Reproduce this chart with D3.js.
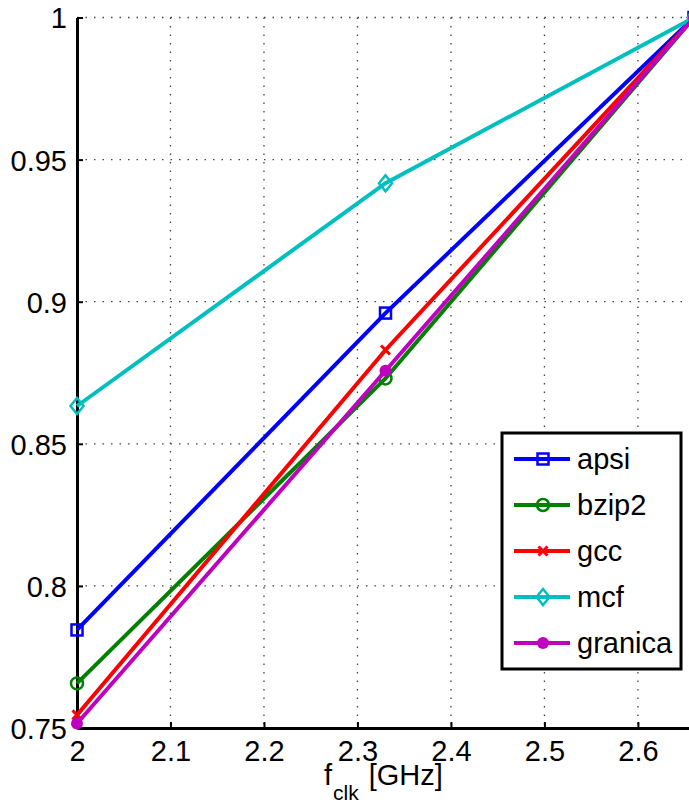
<!DOCTYPE html>
<html>
<head>
<meta charset="utf-8">
<script src="https://cdn.jsdelivr.net/npm/d3@7"></script>
<style>
  body { margin: 0; background: #fff; }
  svg { display: block; font-family: "Liberation Sans", Arial, sans-serif; }
</style>
</head>
<body>
<div id="chart"></div>
<script>
// clock frequencies (GHz)
const freqs = [2.0, 2.33, 2.66]
const seriesNames = ['apsi', 'bzip2', 'gcc', 'mcf', 'granica']
const apsi = [0.7845, 0.896, 1.0]
const bzip2 = [0.7657, 0.873, 1.0]
const gcc = [0.7546, 0.883, 1.0]
const mcf = [0.8633, 0.9417, 1.0]
const granica = [0.7516, 0.8757, 1.0]
const xTicks = [2, 2.1, 2.2, 2.3, 2.4, 2.5, 2.6]
const yTicks = [0.75, 0.8, 0.85, 0.9, 0.95, 1]

const colors = ['#0000ff', '#008000', '#ff0000', '#00bfbf', '#bf00bf']
const symbols = ['square', 'circle', 'cross', 'diamond', 'dot']
const values = [apsi, bzip2, gcc, mcf, granica]

const width = 689, height = 803
const m = { left: 77, top: 17.5, plotRight: 694, bottom: 728 }

const svg = d3.select("#chart").append("svg")
  .attr("width", width)
  .attr("height", height)

const x = d3.scaleLinear().domain([2, 2.66]).range([m.left, m.plotRight])
const y = d3.scaleLinear().domain([0.75, 1]).range([m.bottom, m.top])

// grid (dotted)
const grid = svg.append("g")
grid.selectAll("line.gx")
  .data(xTicks.slice(1))
  .enter().append("line")
    .attr("x1", d => x(d)).attr("x2", d => x(d))
    .attr("y1", m.top).attr("y2", m.bottom)
    .attr("stroke", "#444").attr("stroke-width", 1.3)
    .attr("stroke-dasharray", "1.5,7")
grid.selectAll("line.gy")
  .data(yTicks.slice(1))
  .enter().append("line")
    .attr("x1", m.left).attr("x2", width)
    .attr("y1", d => y(d)).attr("y2", d => y(d))
    .attr("stroke", "#444").attr("stroke-width", 1.3)
    .attr("stroke-dasharray", "1.5,7")

// axes
const xAxis = svg.append("g")
  .attr("transform", "translate(0," + m.bottom + ")")
  .call(d3.axisBottom(x).tickValues(xTicks).tickFormat(d3.format("")).tickSizeInner(-6).tickSizeOuter(0).tickPadding(12))
const yAxis = svg.append("g")
  .attr("transform", "translate(" + m.left + ",0)")
  .call(d3.axisLeft(y).tickValues(yTicks).tickFormat(d3.format("")).tickSizeInner(-6).tickSizeOuter(0).tickPadding(10))

;[xAxis, yAxis].forEach(a => {
  a.select(".domain").attr("stroke", "#000").attr("stroke-width", 3)
  a.selectAll(".tick line").attr("stroke", "#000").attr("stroke-width", 2)
  a.selectAll(".tick text").attr("fill", "#000").style("font-size", "29px")
    .style("font-family", '"Liberation Sans", Arial, sans-serif')
})
xAxis.selectAll(".tick text").attr("dy", "0.71em")
yAxis.selectAll(".tick text").attr("dy", "0.36em")

// x label
const xl = svg.append("text")
  .attr("x", 324).attr("y", 785)
  .style("font-size", "29px").attr("fill", "#000")
xl.append("tspan").text("f")
xl.append("tspan").attr("dy", 15).attr("dx", 1).style("font-size", "21px").text("clk")
xl.append("tspan").attr("dy", -15).attr("dx", 10).text("[GHz]")

// marker drawing
function drawMarker(g, type, color, cx, cy) {
  if (type === 'square') {
    g.append("rect").attr("x", cx - 5.5).attr("y", cy - 5.5).attr("width", 11).attr("height", 11)
      .attr("fill", "none").attr("stroke", color).attr("stroke-width", 2.5)
  } else if (type === 'circle') {
    g.append("circle").attr("cx", cx).attr("cy", cy).attr("r", 6)
      .attr("fill", "none").attr("stroke", color).attr("stroke-width", 2.5)
  } else if (type === 'cross') {
    g.append("path").attr("d", `M${cx-4.5},${cy-4.5}L${cx+4.5},${cy+4.5}M${cx-4.5},${cy+4.5}L${cx+4.5},${cy-4.5}`)
      .attr("stroke", color).attr("stroke-width", 3)
  } else if (type === 'diamond') {
    g.append("path").attr("d", `M${cx},${cy-8}L${cx+6.5},${cy}L${cx},${cy+8}L${cx-6.5},${cy}Z`)
      .attr("fill", "none").attr("stroke", color).attr("stroke-width", 2.5)
  } else {
    g.append("circle").attr("cx", cx).attr("cy", cy).attr("r", 6).attr("fill", color)
  }
}

const line = d3.line().x((d, i) => x(freqs[i])).y(d => y(d))

const series = svg.append("g")
values.forEach((vals, k) => {
  series.append("path")
    .attr("d", line(vals))
    .attr("fill", "none")
    .attr("stroke", colors[k])
    .attr("stroke-width", 4)
  vals.forEach((v, i) => drawMarker(series, symbols[k], colors[k], x(freqs[i]), y(v)))
})

// legend
const legend = svg.append("g").attr("transform", "translate(502,433)")
legend.append("rect")
  .attr("width", 179).attr("height", 236)
  .attr("fill", "#fff").attr("stroke", "#000").attr("stroke-width", 3)
seriesNames.forEach((name, k) => {
  const ly = 26 + k * 46
  legend.append("line")
    .attr("x1", 12).attr("x2", 68).attr("y1", ly).attr("y2", ly)
    .attr("stroke", colors[k]).attr("stroke-width", 4)
  drawMarker(legend, symbols[k], colors[k], 41, ly)
  legend.append("text")
    .attr("x", 75).attr("y", ly).attr("dy", "0.36em")
    .style("font-size", "29px").attr("fill", "#000")
    .text(name)
})
</script>
</body>
</html>
